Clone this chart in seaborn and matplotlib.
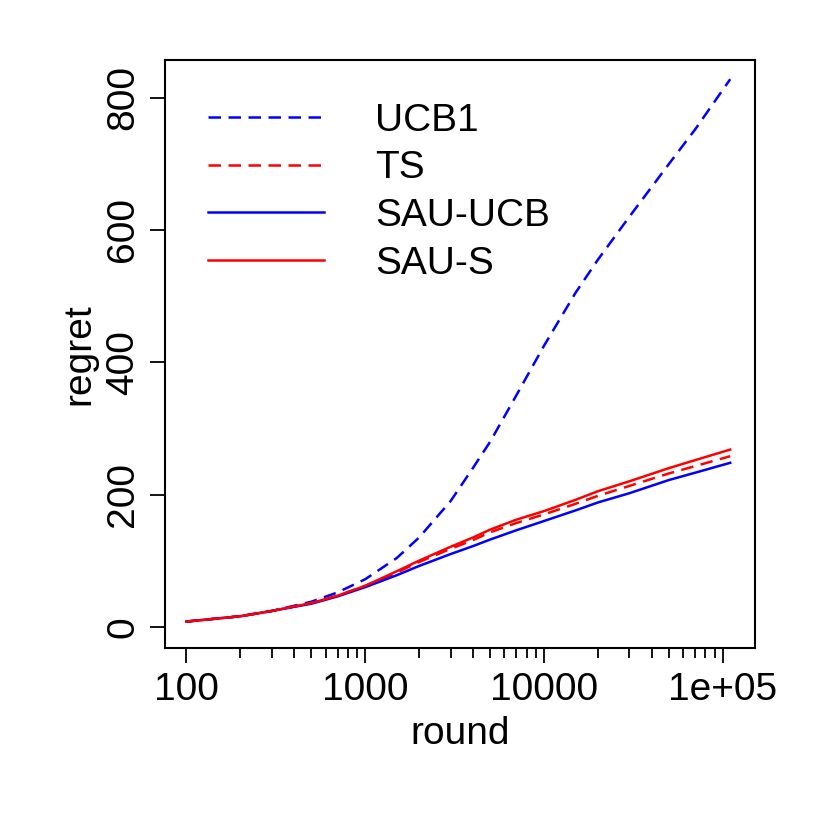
import numpy as np
import pandas as pd
import matplotlib
matplotlib.use("Agg")
import matplotlib.pyplot as plt
import seaborn as sns
from matplotlib.ticker import FixedLocator, NullFormatter

rounds = [100, 200, 300, 500, 700, 1000, 1500, 2000, 3000, 4000, 5000, 7000, 10000,
          15000, 20000, 30000, 50000, 70000, 110000]
ucb1 = [8, 16, 24, 38, 52, 72, 104, 135, 190, 240, 280, 350, 425,
        505, 555, 620, 700, 752, 828]
ts = [8, 16, 24, 36, 47, 62, 82, 98, 118, 131, 143, 157, 170,
      186, 198, 213, 232, 243, 258]
sau_ucb = [8, 16, 24, 35, 46, 60, 78, 92, 110, 122, 132, 146, 160,
           176, 188, 202, 222, 233, 248]
sau_s = [8, 16, 24, 36, 47, 62, 84, 100, 121, 135, 147, 162, 175,
         192, 205, 220, 240, 252, 268]

series = {"UCB1": ucb1, "TS": ts, "SAU-UCB": sau_ucb, "SAU-S": sau_s}
df = pd.concat([pd.DataFrame({"round": rounds, "regret": v, "method": k})
                for k, v in series.items()])

plt.rcParams["font.family"] = "Liberation Sans"
fig = plt.figure(figsize=(8.3, 8.3), dpi=100)
ax = fig.add_axes([165 / 830, 182 / 830, 590 / 830, 588 / 830])

palette = {"UCB1": "blue", "TS": "red", "SAU-UCB": "blue", "SAU-S": "red"}
dashes = {"UCB1": (5, 3), "TS": (5, 3), "SAU-UCB": "", "SAU-S": ""}
sns.lineplot(data=df, x="round", y="regret", hue="method", style="method",
             palette=palette, dashes=dashes, linewidth=1.8, ax=ax)

ax.set_xscale("log")
ax.set_xlim(10 ** 1.88, 10 ** 5.18)
ax.set_ylim(-32, 857)
ax.xaxis.set_major_locator(FixedLocator([100, 1000, 10000, 100000]))
ax.set_xticklabels(["100", "1000", "10000", "1e+05"])
minor = [m * 10 ** e for e in range(2, 5) for m in range(2, 10)]
ax.xaxis.set_minor_locator(FixedLocator(minor))
ax.xaxis.set_minor_formatter(NullFormatter())
ax.set_yticks([0, 200, 400, 600, 800])
for lab in ax.get_yticklabels():
    lab.set_rotation(90)
    lab.set_va("center")
ax.tick_params(axis="both", which="major", labelsize=28, length=11, width=1.3, pad=6)
ax.tick_params(axis="x", which="minor", length=7, width=1.3)
for s in ax.spines.values():
    s.set_linewidth(1.5)
ax.set_xlabel("round", fontsize=28, labelpad=6)
ax.set_ylabel("regret", fontsize=28, labelpad=6)

ax.legend(loc="upper left", frameon=False, fontsize=28, handlelength=3.0,
          handletextpad=1.3, labelspacing=0.3, borderaxespad=0.7)
fig.savefig("out.png", dpi=100)
